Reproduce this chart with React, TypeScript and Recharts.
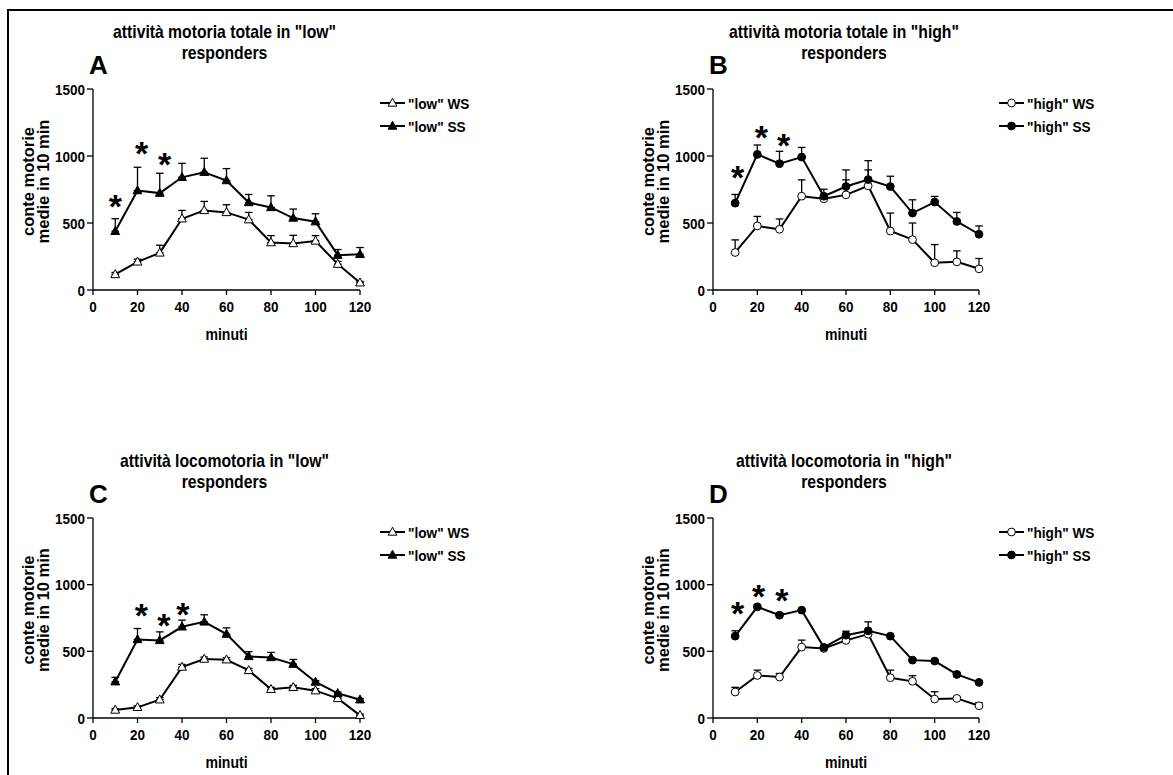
import React from "react";
import { ComposedChart, Line, Scatter, XAxis, YAxis, ErrorBar } from "recharts";

const FONT = '"Liberation Sans", Arial, Helvetica, sans-serif';

const minutes = [10, 20, 30, 40, 50, 60, 70, 80, 90, 100, 110, 120];
const xTicks = [0, 20, 40, 60, 80, 100, 120];
const yTicks = [0, 500, 1000, 1500];

// A - attività motoria totale, "low" responders
const lowTotWs = [116, 210, 277, 532, 594, 579, 525, 354, 347, 366, 193, 54];
const lowTotWsErr = [15, 20, 57, 62, 67, 57, 54, 52, 61, 40, 20, 10];
const lowTotSs = [438, 742, 723, 841, 879, 817, 653, 616, 537, 510, 260, 267];
const lowTotSsErr = [94, 174, 148, 104, 104, 89, 60, 87, 67, 59, 42, 50];
const lowTotStarMin = [10, 21.8, 32.2];
const lowTotStarY = [681, 1072, 990];

// B - attività motoria totale, "high" responders
const highTotWs = [280, 478, 453, 700, 681, 710, 777, 440, 376, 203, 210, 158];
const highTotWsErr = [94, 71, 77, 122, 30, 112, 119, 134, 124, 136, 82, 77];
const highTotSs = [648, 1012, 943, 992, 700, 772, 824, 772, 574, 656, 512, 416];
const highTotSsErr = [65, 70, 92, 72, 52, 124, 141, 77, 99, 42, 67, 62];
const highTotStarMin = [11.1, 21.8, 31.9];
const highTotStarY = [898, 1195, 1133];

// C - attività locomotoria, "low" responders
const lowLocWs = [60, 80, 137, 382, 442, 437, 357, 215, 230, 205, 147, 20];
const lowLocWsErr = [10, 12, 15, 20, 15, 15, 15, 15, 15, 15, 10, 10];
const lowLocSs = [272, 589, 582, 684, 721, 629, 462, 454, 404, 270, 185, 137];
const lowLocSsErr = [33, 82, 64, 50, 53, 47, 35, 38, 35, 10, 10, 10];
const lowLocStarMin = [21.7, 31.9, 40.4];
const lowLocStarY = [822, 747, 834];

// D - attività locomotoria, "high" responders
const highLocWs = [195, 319, 307, 532, 522, 582, 629, 302, 275, 142, 147, 92];
const highLocWsErr = [35, 40, 27, 52, 10, 10, 20, 57, 42, 55, 10, 23];
const highLocSs = [614, 834, 771, 809, 530, 621, 654, 614, 434, 427, 327, 267];
const highLocSsErr = [40, 15, 18, 10, 10, 30, 67, 10, 10, 10, 15, 10];
const highLocStarMin = [11.1, 20.6, 31.1];
const highLocStarY = [838, 966, 939];

const buildRows = (ws: number[], wsErr: number[], ss: number[], ssErr: number[]) =>
  minutes.map((m, i) => ({
    min: m,
    ws: ws[i],
    wsErr: [0, wsErr[i]],
    ss: ss[i],
    ssErr: [0, ssErr[i]]
  }));

const buildStars = (xs: number[], ys: number[]) => xs.map((x, i) => ({ min: x, y: ys[i] }));

const PANEL_W = 590;
const PANEL_H = 385;

// the original figure's lettering is a bit condensed
function SText({
  x,
  y,
  size,
  sx = 0.88,
  anchor = "start",
  dy = "0",
  children
}: {
  x: number;
  y: number;
  size: number;
  sx?: number;
  anchor?: "start" | "middle" | "end";
  dy?: string;
  children: React.ReactNode;
}) {
  return (
    <g transform={`translate(${x},${y}) scale(${sx},1)`}>
      <text x={0} y={0} dy={dy} textAnchor={anchor} fontSize={size} fontWeight="bold" fontFamily={FONT} fill="#000">
        {children}
      </text>
    </g>
  );
}

const XTick = (props: any) => (
  <SText x={props.x} y={props.y} size={15.5} sx={0.87} anchor="middle" dy="0.72em">
    {props.payload.value}
  </SText>
);

const YTick = (props: any) => (
  <SText x={props.x} y={props.y} size={15.5} sx={0.87} anchor="end" dy="0.36em">
    {props.payload.value}
  </SText>
);

type MarkerKind = "triangle" | "circle";

function Marker({ kind, cx, cy, filled }: { kind: MarkerKind; cx: number; cy: number; filled: boolean }) {
  const fill = filled ? "#000" : "#fff";
  if (kind === "triangle") {
    return (
      <path
        d={`M${cx},${cy - 4.8}L${cx + 4.4},${cy + 3.2}L${cx - 4.4},${cy + 3.2}Z`}
        fill={fill}
        stroke="#000"
        strokeWidth={1}
      />
    );
  }
  return <circle cx={cx} cy={cy} r={3.9} fill={fill} stroke="#000" strokeWidth={1} />;
}

const dotFn = (kind: MarkerKind, filled: boolean) => (props: any) => {
  const { cx, cy, index } = props;
  if (cx == null || cy == null) return <g key={index} />;
  return (
    <g key={index}>
      <Marker kind={kind} cx={cx} cy={cy} filled={filled} />
    </g>
  );
};

const starShape = (props: any) => {
  const { cx, cy } = props;
  return (
    <text x={cx} y={cy + 19} textAnchor="middle" fontSize={34} fontWeight="bold" fontFamily={FONT} fill="#000">
      *
    </text>
  );
};

const YLabel = (props: any) => {
  const vb = props.viewBox || {};
  const px = vb.x + vb.width;
  const cy = vb.y + vb.height / 2 - 8;
  const common = {
    textAnchor: "middle" as const,
    dominantBaseline: "central" as const,
    fontSize: 16.5,
    fontWeight: "bold",
    fontFamily: FONT,
    fill: "#000"
  };
  return (
    <g>
      <text x={px - 65} y={cy} transform={`rotate(-90, ${px - 65}, ${cy})`} {...common}>
        conte motorie
      </text>
      <text x={px - 50} y={cy} transform={`rotate(-90, ${px - 50}, ${cy})`} {...common}>
        medie in 10 min
      </text>
    </g>
  );
};

const XLabel = (props: any) => {
  const vb = props.viewBox || {};
  return (
    <SText x={vb.x + vb.width / 2} y={vb.y + 44} size={16} anchor="middle" dy="0.36em">
      minuti
    </SText>
  );
};

type PanelProps = {
  left: number;
  top: number;
  plotLeft: number;
  plotRight: number;
  plotTop: number;
  plotBottom: number;
  letter: string;
  title: string;
  group: string;
  marker: MarkerKind;
  ws: number[];
  wsErr: number[];
  ss: number[];
  ssErr: number[];
  starMin: number[];
  starY: number[];
};

function Panel(p: PanelProps) {
  const rows = buildRows(p.ws, p.wsErr, p.ss, p.ssErr);
  const stars = buildStars(p.starMin, p.starY);
  const xAxisH = 50;
  const yAxisW = 60;
  const margin = {
    top: p.plotTop,
    bottom: PANEL_H - p.plotBottom - xAxisH,
    left: p.plotLeft - yAxisW,
    right: PANEL_W - p.plotRight
  };
  const axisLine = { stroke: "#000", strokeWidth: 1.3 };
  const midX = (p.plotLeft + p.plotRight) / 2 - 2;
  const legX = p.plotRight + 20;
  const legRows = [
    { label: `"${p.group}" WS`, filled: false, y: p.plotTop + 14 },
    { label: `"${p.group}" SS`, filled: true, y: p.plotTop + 37 }
  ];

  return (
    <div style={{ position: "absolute", left: p.left, top: p.top, width: PANEL_W, height: PANEL_H }}>
      <ComposedChart width={PANEL_W} height={PANEL_H} data={rows} margin={margin}>
        <XAxis
          type="number"
          dataKey="min"
          domain={[0, 120]}
          ticks={xTicks}
          interval={0}
          height={xAxisH}
          tickSize={5}
          tickMargin={6}
          tick={<XTick />}
          axisLine={axisLine}
          tickLine={axisLine}
          label={<XLabel />}
        />
        <YAxis
          type="number"
          domain={[0, 1500]}
          ticks={yTicks}
          interval={0}
          width={yAxisW}
          tickSize={6}
          tickMargin={2}
          tick={<YTick />}
          axisLine={axisLine}
          tickLine={axisLine}
          label={<YLabel />}
        />
        <Line
          dataKey="ws"
          stroke="#000"
          strokeWidth={2}
          dot={dotFn(p.marker, false)}
          activeDot={false}
          isAnimationActive={false}
        >
          <ErrorBar dataKey="wsErr" direction="y" width={3.8} stroke="#000" strokeWidth={1.3} />
        </Line>
        <Line
          dataKey="ss"
          stroke="#000"
          strokeWidth={2}
          dot={dotFn(p.marker, true)}
          activeDot={false}
          isAnimationActive={false}
        >
          <ErrorBar dataKey="ssErr" direction="y" width={3.8} stroke="#000" strokeWidth={1.3} />
        </Line>
        <Scatter data={stars} dataKey="y" shape={starShape} isAnimationActive={false} />
      </ComposedChart>
      <svg
        width={PANEL_W}
        height={PANEL_H}
        style={{ position: "absolute", left: 0, top: 0, pointerEvents: "none" }}
      >
        <SText x={midX} y={p.plotTop - 51} size={17.5} sx={0.9} anchor="middle">
          {p.title}
        </SText>
        <SText x={midX} y={p.plotTop - 30} size={17.5} sx={0.9} anchor="middle">
          responders
        </SText>
        <SText x={p.plotLeft - 4} y={p.plotTop - 15} size={26} sx={1}>
          {p.letter}
        </SText>
        {legRows.map((r) => (
          <g key={r.label}>
            <line x1={legX} x2={legX + 25} y1={r.y} y2={r.y} stroke="#000" strokeWidth={2} />
            <Marker kind={p.marker} cx={legX + 12.5} cy={r.y} filled={r.filled} />
            <SText x={legX + 28} y={r.y} size={15.5} sx={0.88} dy="0.36em">
              {r.label}
            </SText>
          </g>
        ))}
      </svg>
    </div>
  );
}

export default function App() {
  return (
    <div
      style={{
        position: "absolute",
        left: 0,
        top: 0,
        width: 1173,
        height: 775,
        overflow: "hidden",
        background: "#fff"
      }}
    >
      <div
        style={{
          position: "absolute",
          left: 7,
          top: 9,
          width: 1166,
          height: 766,
          boxSizing: "border-box",
          borderTop: "2px solid #000",
          borderLeft: "2px solid #000"
        }}
      />
      <Panel
        left={0}
        top={0}
        plotLeft={93}
        plotRight={360}
        plotTop={89}
        plotBottom={290}
        letter="A"
        title={'attività motoria totale in "low"'}
        group="low"
        marker="triangle"
        ws={lowTotWs}
        wsErr={lowTotWsErr}
        ss={lowTotSs}
        ssErr={lowTotSsErr}
        starMin={lowTotStarMin}
        starY={lowTotStarY}
      />
      <Panel
        left={580}
        top={0}
        plotLeft={133}
        plotRight={399}
        plotTop={89}
        plotBottom={290}
        letter="B"
        title={'attività motoria totale in "high"'}
        group="high"
        marker="circle"
        ws={highTotWs}
        wsErr={highTotWsErr}
        ss={highTotSs}
        ssErr={highTotSsErr}
        starMin={highTotStarMin}
        starY={highTotStarY}
      />
      <Panel
        left={0}
        top={390}
        plotLeft={93}
        plotRight={360}
        plotTop={128}
        plotBottom={328}
        letter="C"
        title={'attività locomotoria in "low"'}
        group="low"
        marker="triangle"
        ws={lowLocWs}
        wsErr={lowLocWsErr}
        ss={lowLocSs}
        ssErr={lowLocSsErr}
        starMin={lowLocStarMin}
        starY={lowLocStarY}
      />
      <Panel
        left={580}
        top={390}
        plotLeft={133}
        plotRight={399}
        plotTop={128}
        plotBottom={328}
        letter="D"
        title={'attività locomotoria in "high"'}
        group="high"
        marker="circle"
        ws={highLocWs}
        wsErr={highLocWsErr}
        ss={highLocSs}
        ssErr={highLocSsErr}
        starMin={highLocStarMin}
        starY={highLocStarY}
      />
    </div>
  );
}
